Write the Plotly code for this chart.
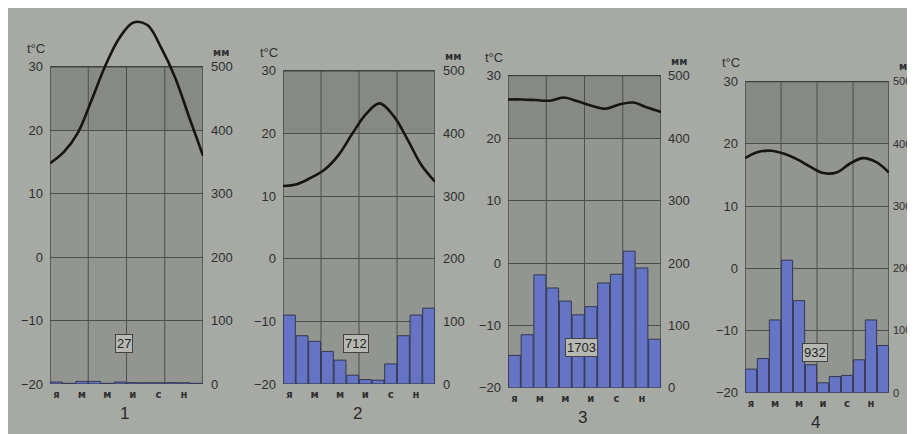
import numpy as np
import plotly.graph_objects as go

# ---------------- data ----------------
months = list(range(1, 13))
month_tick_vals = [1, 3, 5, 7, 9, 11]
month_tick_text = ["я", "м", "м", "и", "с", "н"]
temp_ticks = [-20, -10, 0, 10, 20, 30]
precip_ticks = [0, 100, 200, 300, 400, 500]
season_bounds = [3.5, 6.5, 9.5]
panel_labels = ["1", "2", "3", "4"]

temp_1 = [14.8, 16.6, 19.6, 24.8, 30.3, 34.6, 37.0, 36.6, 33.0, 28.3, 22.1, 16.0]
precip_1 = [3, 1, 4, 4, 1, 3, 2, 2, 2, 2, 2, 1]
total_1 = "27"

temp_2 = [11.6, 11.9, 12.9, 14.2, 16.5, 19.9, 23.1, 24.8, 22.8, 19.1, 15.0, 12.3]
precip_2 = [110, 77, 68, 52, 38, 14, 7, 6, 32, 77, 110, 121]
total_2 = "712"

temp_3 = [26.2, 26.2, 26.1, 26.0, 26.5, 25.9, 25.2, 24.7, 25.4, 25.7, 24.9, 24.2]
precip_3 = [52, 85, 181, 160, 139, 117, 130, 168, 182, 219, 192, 78]
total_3 = "1703"

temp_4 = [17.7, 18.7, 18.9, 18.4, 17.5, 16.3, 15.3, 15.4, 16.8, 17.7, 17.1, 15.4]
precip_4 = [38, 55, 117, 213, 148, 45, 16, 26, 28, 53, 117, 76]
total_4 = "932"

temps = [temp_1, temp_2, temp_3, temp_4]
precips = [precip_1, precip_2, precip_3, precip_4]
totals = [total_1, total_2, total_3, total_4]

# ---------------- layout geometry (pixels) ----------------
W, H = 915, 434
# (left px, right px, pixel of 30°C, pixel of -20°C)
geom = [(42, 195, 60, 383), (275, 427, 64, 383), (500, 653, 69, 387), (737, 881, 75, 392)]
right_standoff = [7, 7, 6, 3]
right_size = [13, 13, 13, 11]
top_px = 2

PAPER = "#a7a9a5"
PLOT = "#939591"
PLOT_TOP = "#878985"
GRID = "#4d4f4c"
TXT = "#2f302f"
BAR = "#6674c6"
FONT = "Liberation Sans"

fig = go.Figure()
layout = dict(
    width=W, height=H, margin=dict(l=0, r=0, t=0, b=0),
    paper_bgcolor=PAPER, plot_bgcolor="rgba(0,0,0,0)",
    showlegend=False, font=dict(family=FONT, color=TXT),
    barmode="overlay",
)
shapes, annotations = [], []

for i in range(4):
    n = i + 1
    x0, x1, y30, ym20 = geom[i]
    ppd = (ym20 - y30) / 50.0
    ytop = 30 + (y30 - top_px) / ppd
    xs = "x" if n == 1 else f"x{n}"
    yl = "y" if n == 1 else f"y{2*n-1}"
    yr = f"y{2*n}"
    xkey = "xaxis" if n == 1 else f"xaxis{n}"
    ylkey = "yaxis" if n == 1 else f"yaxis{2*n-1}"
    yrkey = f"yaxis{2*n}"

    layout[xkey] = dict(
        domain=[x0 / W, x1 / W], anchor=yl, range=[0.5, 12.5],
        tickmode="array", tickvals=month_tick_vals, ticktext=month_tick_text,
        tickfont=dict(size=10, color=TXT, family="DejaVu Sans", weight="bold"),
        showgrid=False, zeroline=False, showline=False, ticks="",
        ticklabelstandoff=3, fixedrange=True,
    )
    layout[ylkey] = dict(
        domain=[1 - ym20 / H, 1 - top_px / H], anchor=xs, range=[-20, ytop],
        tickmode="array", tickvals=temp_ticks,
        tickfont=dict(size=13, color=TXT),
        showgrid=True, gridcolor=GRID, gridwidth=1, zeroline=False,
        showline=False, ticks="", ticklabelstandoff=6,
    )
    layout[yrkey] = dict(
        overlaying=yl, side="right", anchor=xs, range=[0, (ytop + 20) * 10],
        tickmode="array", tickvals=precip_ticks,
        tickfont=dict(size=right_size[i], color=TXT),
        showgrid=False, zeroline=False, showline=False, ticks="",
        ticklabelstandoff=right_standoff[i],
    )

    # plot area background (darker top band) with border
    shapes.append(dict(type="rect", xref=xs, yref=yl, x0=0.5, x1=12.5, y0=-20, y1=30,
                       fillcolor=PLOT, line=dict(width=0), layer="below"))
    shapes.append(dict(type="rect", xref=xs, yref=yl, x0=0.5, x1=12.5, y0=20, y1=30,
                       fillcolor=PLOT_TOP, line=dict(width=0), layer="below"))
    for b in season_bounds:
        shapes.append(dict(type="line", xref=xs, yref=yl, x0=b, x1=b, y0=-20, y1=30,
                           line=dict(color=GRID, width=1), layer="between"))
    shapes.append(dict(type="rect", xref=xs, yref=yl, x0=0.5, x1=12.5, y0=-20, y1=30,
                       fillcolor="rgba(0,0,0,0)", line=dict(color="#3e403d", width=1.3),
                       layer="between"))

    fig.add_trace(go.Bar(
        x=months, y=precips[i], xaxis=xs, yaxis=yr, width=0.94,
        marker=dict(color=BAR, line=dict(color="#33384f", width=1)),
    ))
    fig.add_trace(go.Scatter(
        x=np.linspace(0.5, 12.5, 12), y=temps[i], xaxis=xs, yaxis=yl,
        mode="lines", line=dict(color="#151515", width=2.6, shape="spline", smoothing=1.0),
    ))

    annotations.append(dict(
        text=totals[i], xref=xs, yref=yl, x=6.3, y=-13.6, showarrow=False,
        font=dict(size=13, color="#222"), bgcolor="#b6b8b3", bordercolor="#444",
        borderwidth=1, borderpad=1,
    ))
    annotations.append(dict(
        text="t°C", xref="paper", yref="paper", x=(x0 - 14) / W, y=1 - (y30 - 19) / H,
        showarrow=False, font=dict(size=13, color=TXT), xanchor="center", yanchor="middle",
    ))
    annotations.append(dict(
        text="мм", xref="paper", yref="paper", x=(x1 + 18) / W, y=1 - (y30 - 15) / H,
        showarrow=False, font=dict(size=10, color=TXT, family="DejaVu Sans", weight="bold"),
        xanchor="center", yanchor="middle",
    ))
    annotations.append(dict(
        text=panel_labels[i], xref="paper", yref="paper", x=((x0 + x1) / 2 - 2) / W,
        y=1 - (ym20 + 30) / H, showarrow=False, font=dict(size=17, color="#2a2a2a"),
        xanchor="center", yanchor="middle",
    ))

layout["shapes"] = shapes
layout["annotations"] = annotations
fig.update_layout(**layout)
fig.write_html("out.html")
